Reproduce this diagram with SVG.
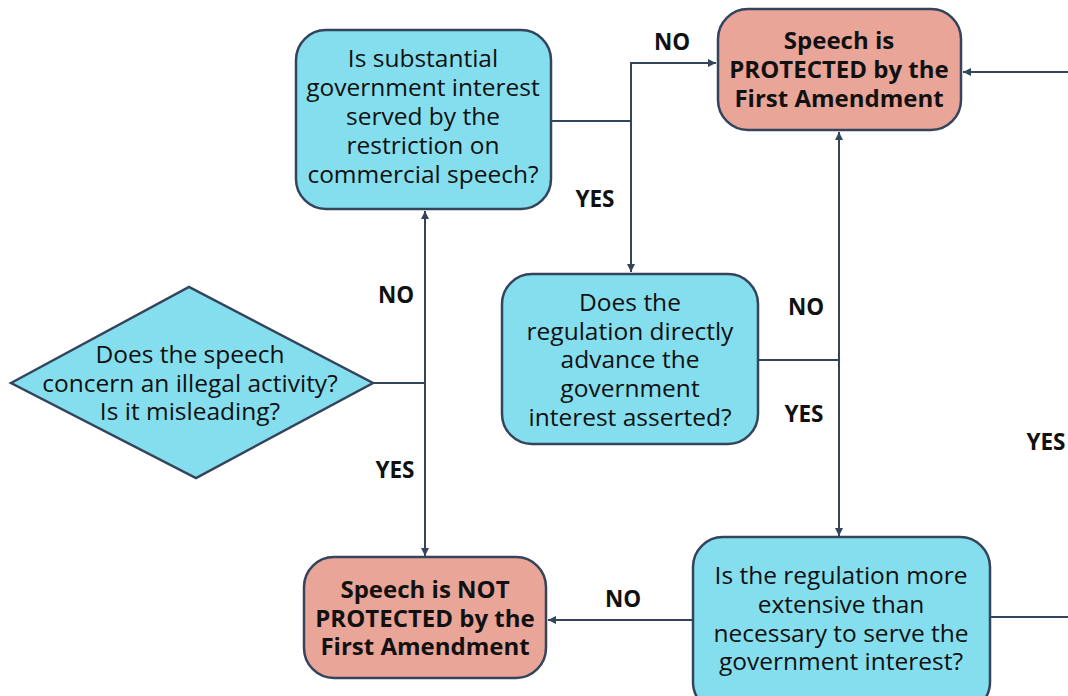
<svg xmlns="http://www.w3.org/2000/svg" width="1068" height="696" viewBox="0 0 1068 696">
<style>
.q{fill:#85DEEE;stroke:#34445B;stroke-width:2.5}
.a{fill:#E8A598;stroke:#34445B;stroke-width:2.5}
.t{font-family:"Open Sans","Noto Sans",sans-serif;font-size:24.5px;fill:#111;text-anchor:middle}
.b{font-family:"Open Sans","Noto Sans",sans-serif;font-size:24px;font-weight:bold;fill:#111;text-anchor:middle}
.l{font-family:"Open Sans","Noto Sans",sans-serif;font-size:22.5px;font-weight:bold;fill:#111;text-anchor:middle}
.c{fill:none;stroke:#34445B;stroke-width:2}
</style>
<defs>
<marker id="ar" viewBox="0 0 10 10" refX="10" refY="5" markerWidth="8" markerHeight="8" orient="auto" markerUnits="userSpaceOnUse">
<path d="M0,0 L10,5 L0,10 Z" fill="#34445B"/>
</marker>
</defs>
<rect width="1068" height="696" fill="#fff"/>
<g id="connectors">
<path class="c" d="M373,383 H425"/>
<path class="c" d="M425,383 V211" marker-end="url(#ar)"/>
<path class="c" d="M425,383 V556" marker-end="url(#ar)"/>
<path class="c" d="M551,121 H631"/>
<path class="c" d="M631,121 V272" marker-end="url(#ar)"/>
<path class="c" d="M631,121 V63 H716" marker-end="url(#ar)"/>
<path class="c" d="M758,360 H839"/>
<path class="c" d="M839,360 V132" marker-end="url(#ar)"/>
<path class="c" d="M839,360 V536" marker-end="url(#ar)"/>
<path class="c" d="M693,620 H548" marker-end="url(#ar)"/>
<path class="c" d="M990,617 H1068"/>
<path class="c" d="M1068,72 H963" marker-end="url(#ar)"/>
<text class="l" x="672" y="50">NO</text>
<text class="l" x="595" y="207">YES</text>
<text class="l" x="396" y="303">NO</text>
<text class="l" x="395" y="478">YES</text>
<text class="l" x="806" y="315">NO</text>
<text class="l" x="804" y="422">YES</text>
<text class="l" x="1046" y="450">YES</text>
<text class="l" x="623" y="607">NO</text>
</g>
<g id="n_substantial">
<rect class="q" x="296" y="30" width="255" height="179" rx="30"/>
<text class="t" x="423"><tspan x="423" y="67">Is substantial</tspan><tspan x="423" y="96">government interest</tspan><tspan x="423" y="125">served by the</tspan><tspan x="423" y="154">restriction on</tspan><tspan x="423" y="183">commercial speech?</tspan></text>
</g>
<g id="n_protected">
<rect class="a" x="718" y="9" width="243" height="121" rx="30"/>
<text class="b" x="839"><tspan x="839" y="49">Speech is</tspan><tspan x="839" y="78">PROTECTED by the</tspan><tspan x="839" y="107">First Amendment</tspan></text>
</g>
<g id="n_illegal">
<polygon class="q" points="11,383 189,287 373,383 196,478"/>
<text class="t" x="190"><tspan x="190" y="363">Does the speech</tspan><tspan x="190" y="392">concern an illegal activity?</tspan><tspan x="190" y="420">Is it misleading?</tspan></text>
</g>
<g id="n_advance">
<rect class="q" x="502" y="274" width="256" height="170" rx="30"/>
<text class="t" x="630"><tspan x="630" y="311">Does the</tspan><tspan x="630" y="340">regulation directly</tspan><tspan x="630" y="368">advance the</tspan><tspan x="630" y="397">government</tspan><tspan x="630" y="426">interest asserted?</tspan></text>
</g>
<g id="n_notprotected">
<rect class="a" x="304" y="557" width="242" height="121" rx="30"/>
<text class="b" x="425"><tspan x="425" y="598">Speech is NOT</tspan><tspan x="425" y="627">PROTECTED by the</tspan><tspan x="425" y="655">First Amendment</tspan></text>
</g>
<g id="n_extensive">
<rect class="q" x="693" y="537" width="297" height="175" rx="30"/>
<text class="t" x="841"><tspan x="841" y="584">Is the regulation more</tspan><tspan x="841" y="613">extensive than</tspan><tspan x="841" y="642">necessary to serve the</tspan><tspan x="841" y="670">government interest?</tspan></text>
</g>
</svg>
